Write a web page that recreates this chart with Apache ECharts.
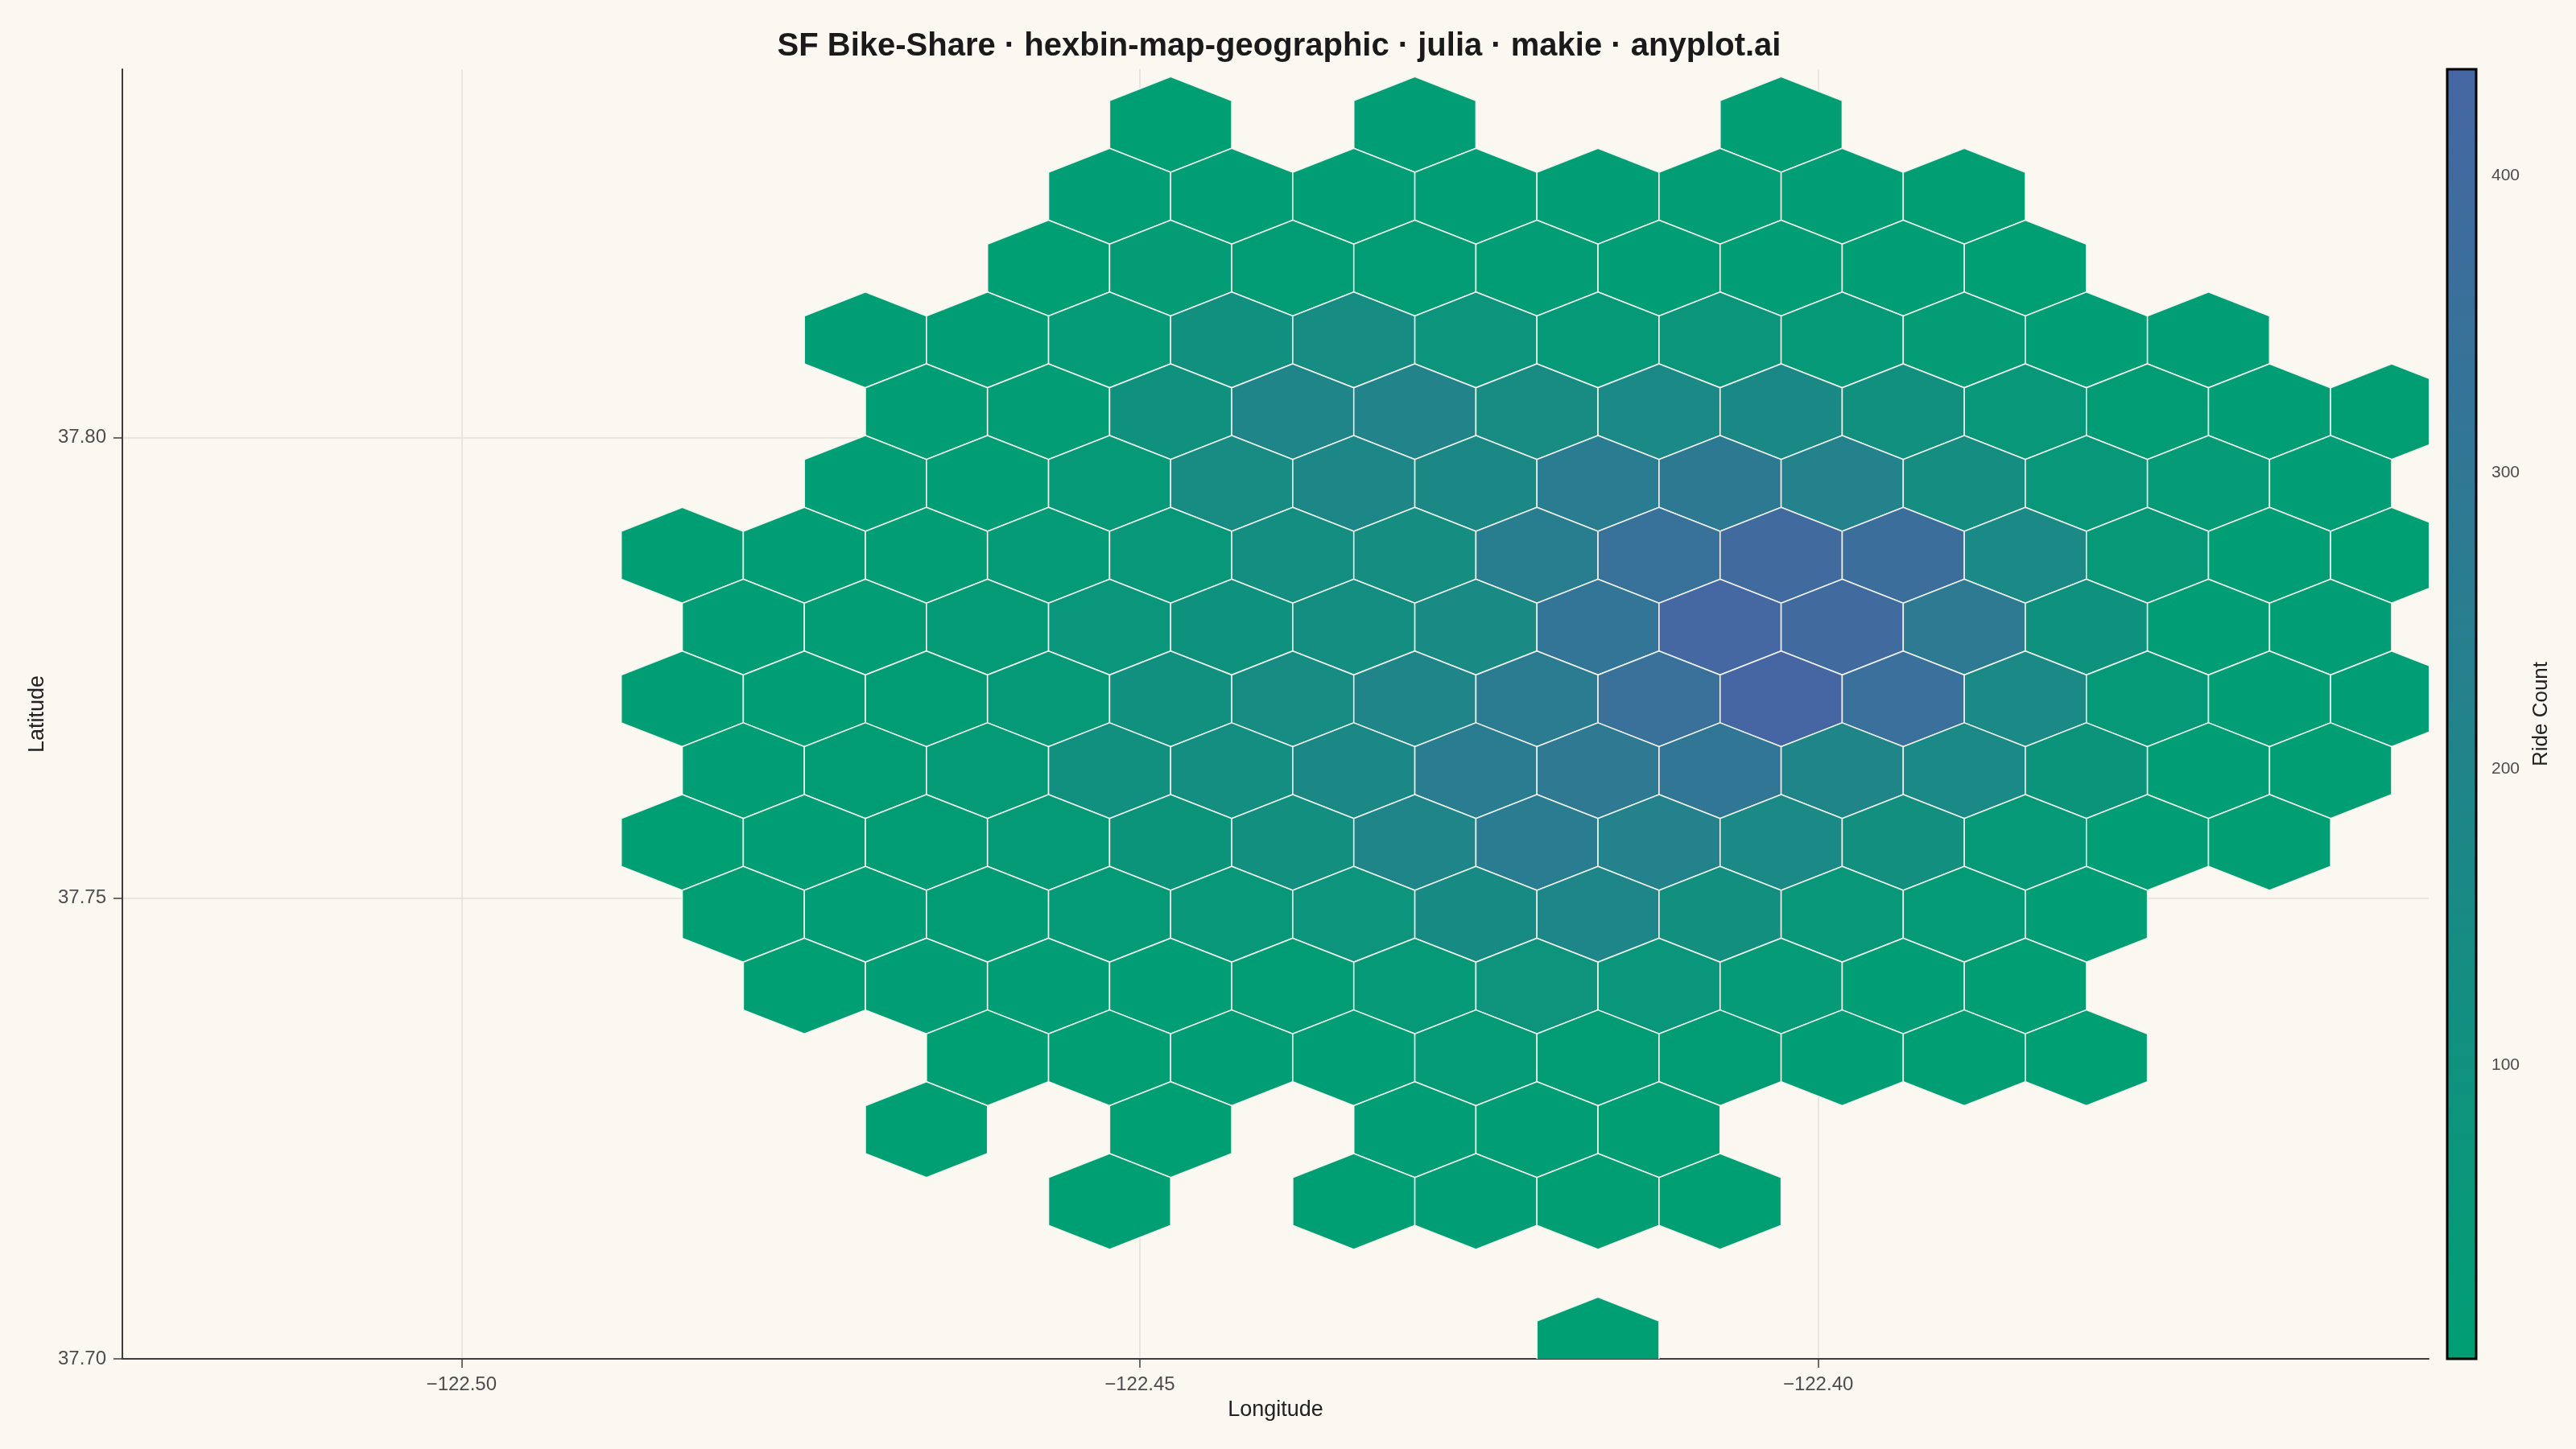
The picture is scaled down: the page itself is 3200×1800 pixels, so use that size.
<!DOCTYPE html>
<html>
<head>
<meta charset="utf-8">
<script src="https://cdn.jsdelivr.net/npm/echarts@6/dist/echarts.min.js"></script>
<style>
html,body{margin:0;padding:0;background:#FAF8F1;}
#chart{width:3200px;height:1800px;}
</style>
</head>
<body>
<div id="chart"></div>
<script>
const TITLE = 'SF Bike-Share \u00b7 hexbin-map-geographic \u00b7 julia \u00b7 makie \u00b7 anyplot.ai';
const xTicks = [-122.50, -122.45, -122.40];
const yTicks = [37.70, 37.75, 37.80];
const cbTicks = [100, 200, 300, 400];
const lonRange = [-122.525, -122.355];
const latRange = [37.70, 37.84];
const countRange = [1, 436];
const colorStops = ['#009E73', '#4666A3'];

// hexbin grid definition (cell width in degrees, grid origin)
const cellSize = 0.009;
const gridLon0 = -122.41623;
const gridLat0 = 37.7015;

// rows of the hex grid (row index counted from the south), first column index, ride counts (null = empty cell)
const rowIndex = [17, 16, 15, 14, 13, 12, 11, 10, 9, 8, 7, 6, 5, 4, 3, 2, 0];
const rowFirstCol = [-4, -4, -5, -6, -6, -6, -8, -7, -8, -7, -8, -7, -7, -5, -6, -4, 0];
const rowCounts = [
  [4, null, 6, null, null, 5],
  [8, 10, 9, 7, 9, 11, 6, 5],
  [4, 20, 14, 14, 12, 10, 8, 6, 4],
  [6, 8, 26, 106, 137, 80, 38, 69, 38, 20, 9, 6],
  [8, 12, 100, 193, 212, 150, 168, 162, 113, 51, 13, 7, 5],
  [7, 10, 38, 150, 181, 172, 261, 286, 218, 131, 57, 26, 8],
  [5, 8, 11, 26, 51, 125, 131, 249, 348, 404, 373, 168, 44, 7, 4],
  [7, 11, 32, 63, 94, 125, 156, 317, 429, 404, 280, 94, 10, 6],
  [6, 9, 14, 38, 113, 144, 193, 268, 354, 436, 361, 168, 40, 9, 8],
  [7, 13, 32, 113, 125, 175, 261, 292, 305, 199, 168, 75, 8, 5],
  [4, 8, 13, 32, 75, 119, 193, 261, 218, 168, 119, 38, 8, 5],
  [5, 8, 13, 32, 57, 82, 147, 187, 119, 51, 32, 8],
  [4, 6, 8, 9, 14, 38, 85, 63, 26, 8, 5],
  [3, 5, 7, 8, 29, 14, 13, 7, 5, 3],
  [3, null, 4, null, 6, 7, 5],
  [2, null, 4, 6, 5, 3],
  [1]
];

// build hexbin cells (center lon, center lat, count)
const rowStep = cellSize * Math.sqrt(3) / 2;
const hexData = [];
rowIndex.forEach((r, i) => {
  rowCounts[i].forEach((c, j) => {
    if (c === null) return;
    const col = rowFirstCol[i] + j;
    const lon = gridLon0 + cellSize * (col + (r % 2) * 0.5);
    const lat = gridLat0 + r * rowStep;
    hexData.push([lon, lat, c]);
  });
});

const FONT = 'Liberation Sans, Arial, Helvetica, sans-serif';
const fmtLon = v => (v < 0 ? '\u2212' : '') + Math.abs(v).toFixed(2);

function renderHex(params, api) {
  const lon = api.value(0), lat = api.value(1);
  const R = cellSize / Math.sqrt(3), hw = cellSize / 2;
  const pts = [
    [lon, lat + R], [lon + hw, lat + R / 2], [lon + hw, lat - R / 2],
    [lon, lat - R], [lon - hw, lat - R / 2], [lon - hw, lat + R / 2]
  ].map(p => api.coord(p));
  return {
    type: 'polygon',
    shape: { points: pts },
    style: { fill: api.visual('color'), stroke: 'rgba(246,244,238,0.95)', lineWidth: 1.6 }
  };
}

function renderBar(params, api) {
  const p0 = api.coord([0, api.value(1)]);
  const p1 = api.coord([1, api.value(2)]);
  return {
    type: 'rect',
    shape: { x: p0[0], y: p1[1], width: p1[0] - p0[0], height: p0[1] - p1[1] },
    style: {
      fill: new echarts.graphic.LinearGradient(0, 1, 0, 0, [
        { offset: 0, color: colorStops[0] },
        { offset: 1, color: colorStops[1] }
      ]),
      stroke: '#000000',
      lineWidth: 3
    }
  };
}

const chart = echarts.init(document.getElementById('chart'), null, { renderer: 'canvas' });
chart.setOption({
  backgroundColor: '#FAF8F1',
  animation: false,
  textStyle: { fontFamily: FONT },
  title: {
    text: TITLE,
    left: 1584, textAlign: 'center', top: 33,
    textStyle: { fontFamily: FONT, fontSize: 40, fontWeight: 'bold', color: '#1a1a1a' }
  },
  visualMap: {
    show: false, seriesIndex: 0, dimension: 2,
    min: countRange[0], max: countRange[1],
    inRange: { color: colorStops }
  },
  grid: [
    { left: 152, right: 183, top: 86, bottom: 112 },
    { left: 3040, width: 36, top: 86, bottom: 112 }
  ],
  xAxis: [
    {
      gridIndex: 0, type: 'value', min: lonRange[0], max: lonRange[1],
      name: 'Longitude', nameLocation: 'middle', nameGap: 50,
      nameTextStyle: { fontFamily: FONT, fontSize: 27, color: '#222' },
      axisLine: { show: true, onZero: false, lineStyle: { color: '#3c3c3c', width: 2 } },
      axisTick: { show: true, customValues: xTicks, length: 11, lineStyle: { color: '#3c3c3c', width: 1.5 } },
      axisLabel: { customValues: xTicks, formatter: fmtLon, fontFamily: FONT, fontSize: 24, color: '#4d4d4d', margin: 20 },
      splitLine: { show: true, lineStyle: { color: '#e4e1d9', width: 1.5 } }
    },
    {
      gridIndex: 1, type: 'value', min: 0, max: 1, show: false
    }
  ],
  yAxis: [
    {
      gridIndex: 0, type: 'value', min: latRange[0], max: latRange[1],
      name: 'Latitude', nameLocation: 'middle', nameGap: 92, nameRotate: 90,
      nameTextStyle: { fontFamily: FONT, fontSize: 27, color: '#222' },
      axisLine: { show: true, onZero: false, lineStyle: { color: '#3c3c3c', width: 2 } },
      axisTick: { show: true, customValues: yTicks, length: 11, lineStyle: { color: '#3c3c3c', width: 1.5 } },
      axisLabel: { customValues: yTicks, formatter: v => v.toFixed(2), fontFamily: FONT, fontSize: 24, color: '#4d4d4d', margin: 20 },
      splitLine: { show: true, lineStyle: { color: '#e4e1d9', width: 1.5 } }
    },
    {
      gridIndex: 1, type: 'value', position: 'right', min: countRange[0], max: countRange[1],
      name: 'Ride Count', nameLocation: 'middle', nameGap: 68, nameRotate: 90,
      nameTextStyle: { fontFamily: FONT, fontSize: 26, color: '#222' },
      axisLine: { show: false },
      axisTick: { show: true, customValues: cbTicks, length: 10, lineStyle: { color: '#555', width: 1.5 } },
      axisLabel: { customValues: cbTicks, fontFamily: FONT, fontSize: 21, color: '#4d4d4d', margin: 19 },
      splitLine: { show: false }
    }
  ],
  series: [
    {
      type: 'custom', name: 'hexbin', xAxisIndex: 0, yAxisIndex: 0,
      clip: true, renderItem: renderHex, data: hexData,
      encode: { x: 0, y: 1 }
    },
    {
      type: 'custom', name: 'colorbar', xAxisIndex: 1, yAxisIndex: 1,
      renderItem: renderBar, data: [[0, countRange[0], countRange[1]]],
      encode: { y: [1, 2] }
    }
  ]
});
</script>
</body>
</html>
